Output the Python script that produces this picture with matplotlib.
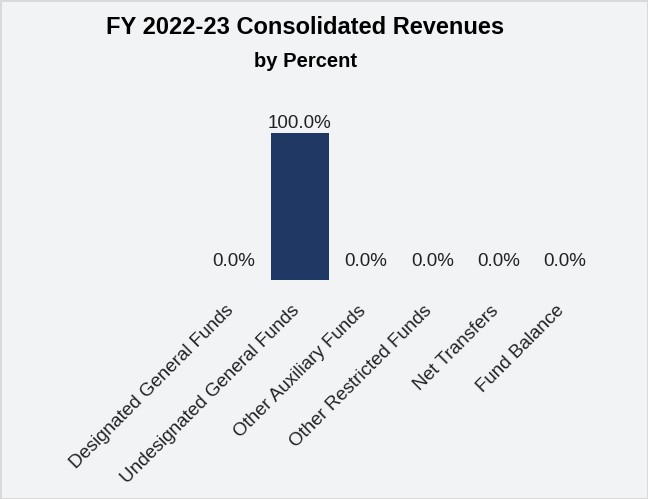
import matplotlib.pyplot as plt
import matplotlib.transforms as mtransforms
import numpy as np

plt.rcParams['font.family'] = ['Liberation Sans', 'DejaVu Sans']

categories = ["Designated General Funds", "Undesignated General Funds",
              "Other Auxiliary Funds", "Other Restricted Funds",
              "Net Transfers", "Fund Balance"]
percent = [0.0, 100.0, 0.0, 0.0, 0.0, 0.0]

bg = '#f2f3f5'
fig = plt.figure(figsize=(6.48, 4.99), dpi=100, facecolor=bg)
fig.patch.set_edgecolor('#d9d9d9')
fig.patch.set_linewidth(2)

ax = fig.add_axes([0.3094, 0.4389, 0.6134, 0.3307])
ax.set_facecolor(bg)

x = np.arange(len(categories))
bars = ax.bar(x, percent, width=0.87, color='#203864')

# zero bars get their label lifted a little higher
for b, v in zip(bars, percent):
    off = 7.5 if v == 0 else 0.5
    ax.annotate(f"{v:.1f}%", (b.get_x() + b.get_width() / 2, v),
                xytext=(0, off), textcoords='offset points',
                ha='center', va='bottom', fontsize=13.5, color='#222222')

ax.set_xlim(-0.5, len(categories) - 0.5)
ax.set_ylim(0, 112)
ax.set_yticks([])
ax.set_xticks(x)
ax.set_xticklabels(categories, rotation=45, ha='right', va='top',
                   rotation_mode='anchor', fontsize=13.5, color='#222222')
ax.tick_params(axis='x', length=0, pad=16)
# pull the rotated labels so their upper end sits under the tick
shift = mtransforms.ScaledTranslation(-0.09, 0, fig.dpi_scale_trans)
for lab in ax.get_xticklabels():
    lab.set_transform(lab.get_transform() + shift)
for s in ax.spines.values():
    s.set_visible(False)

fig.text(0.4715, 0.9319, "FY 2022-23 Consolidated Revenues", ha='center',
         va='baseline', fontsize=17, fontweight='bold', color='black')
fig.text(0.471, 0.8651, "by Percent", ha='center', va='baseline',
         fontsize=14.5, fontweight='bold', color='black')

fig.savefig('out.png', dpi=100, facecolor=bg, edgecolor='#d9d9d9')
